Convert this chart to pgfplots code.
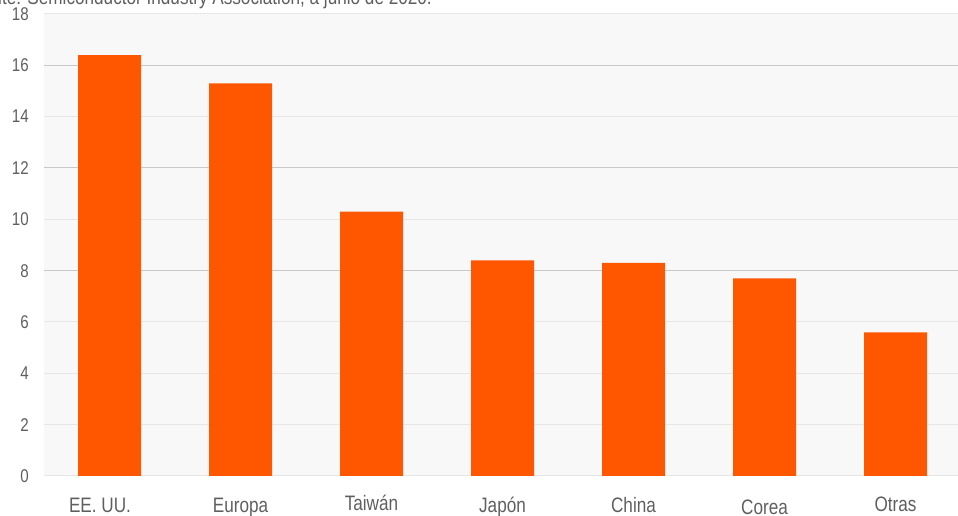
\documentclass[border=0pt]{standalone}
\usepackage{pgfplots}
\pgfplotsset{compat=1.18}
\usepackage{fontspec}
\setmainfont{Liberation Sans}[FakeStretch=0.82]
\definecolor{barc}{RGB}{255,87,0}
\definecolor{bgc}{RGB}{248,248,248}
\definecolor{labc}{RGB}{95,95,95}
\definecolor{gridlight}{RGB}{230,230,230}
\definecolor{griddark}{RGB}{200,200,200}
\begin{document}
\begin{tikzpicture}[x=1bp,y=1bp]
\useasboundingbox (0,0) rectangle (958,516);
\node[anchor=base east, inner sep=0pt, text=labc, font=\fontsize{21}{24}\selectfont] at (432,511) {Fuente: Semiconductor Industry Association, a junio de 2020.};
\begin{axis}[
  scale only axis,
  width=917bp, height=462bp,
  at={(44bp,40bp)}, anchor=south west,
  xmin=-0.5, xmax=6.5, ymin=0, ymax=18,
  ybar, bar width=63bp,
  xtick={0,1,2,3,4,5,6},
  xticklabels={EE. UU.\hspace*{19bp}, Europa, \raisebox{2bp}{Taiwán}, Japón, China, \raisebox{-2.5bp}{Corea}, \raisebox{1bp}{Otras}},
  ytick={0,2,4,6,8,10,12,14,16,18},
  extra y ticks={8,12,16},
  extra y tick labels={},
  extra y tick style={grid style={draw=griddark, line width=1bp}},
  axis line style={draw=none},
  major tick length=0pt,
  axis background/.style={fill=bgc},
  ymajorgrids,
  grid style={draw=gridlight, line width=1bp},
  /pgf/number format/assume math mode=true,
  yticklabel style={font=\fontsize{18.5}{20}\selectfont, text=labc, inner sep=0pt, anchor=east, xshift=-15bp},
  xticklabel style={font=\fontsize{21}{24}\selectfont, text=labc, inner sep=0pt, anchor=base, yshift=-36.5bp},
]
\addplot[fill=barc, draw=none] coordinates {(0,16.4) (1,15.3) (2,10.3) (3,8.4) (4,8.3) (5,7.7) (6,5.6)};
\end{axis}
\end{tikzpicture}
\end{document}
